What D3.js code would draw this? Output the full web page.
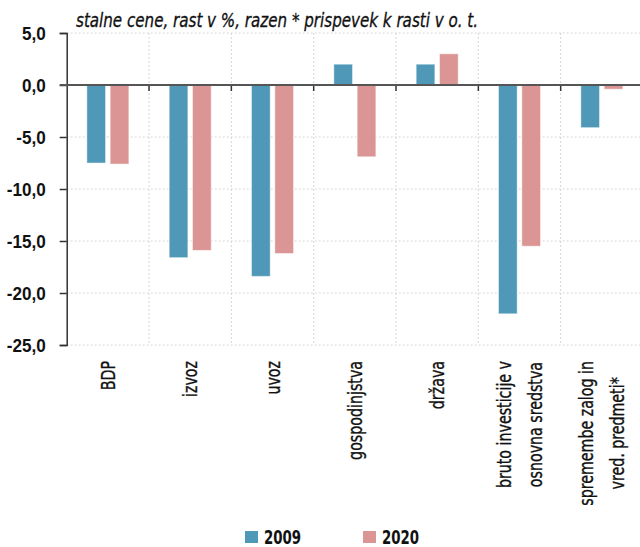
<!DOCTYPE html>
<html>
<head>
<meta charset="utf-8">
<script src="https://cdn.jsdelivr.net/npm/d3@7"></script>
<style>
  html, body { margin: 0; padding: 0; background: #fff; }
  svg { display: block; font-family: "DejaVu Sans Condensed", "Liberation Sans Narrow", sans-serif; }
  .grid line { stroke: #d6d6d6; stroke-dasharray: 2,2; stroke-width: 1; }
  .lbl { fill: #111; stroke: #111; stroke-width: 0.35; font-size: 20px; }
</style>
</head>
<body>
<svg id="chart" width="640" height="547"></svg>
<script>
// categories (line breaks with "|"), one value series per year
const categories = ["BDP", "izvoz", "uvoz", "gospodinjstva", "država",
  "bruto investicije v|osnovna sredstva", "spremembe zalog in|vred. predmeti*"];
const series = ["2009", "2020"];
const values2009 = [-7.5, -16.6, -18.4, 2.0, 2.0, -22.0, -4.1];
const values2020 = [-7.6, -15.9, -16.2, -6.9, 3.0, -15.5, -0.4];
const yTicks = [5, 0, -5, -10, -15, -20, -25];
const subtitle = "stalne cene, rast v %, razen * prispevek k rasti v o. t.";
const colors = { "2009": "#4f98b8", "2020": "#da9594" };

const svg = d3.select("#chart");
const m = { left: 66.7, right: 643, top: 33, bottom: 345 };

// the original uses a tall condensed face; squeeze DejaVu horizontally
const squeeze = (sel, k) => sel.each(function () {
  const w = this.getComputedTextLength();
  d3.select(this).attr("textLength", w * k).attr("lengthAdjust", "spacingAndGlyphs");
});

const x0 = d3.scaleBand().domain(categories).range([m.left, m.right]).padding(0);
// the pair of bars sits in the middle 42px of each band
const x1 = d3.scaleBand().domain(series)
  .range([x0.bandwidth() / 2 - 21, x0.bandwidth() / 2 + 21]).paddingInner(0.2);
const y = d3.scaleLinear().domain([5, -25]).range([m.top, m.bottom]);

const rows = categories.map((c, i) => ({ cat: c, "2009": values2009[i], "2020": values2020[i] }));

// grid
const grid = svg.append("g").attr("class", "grid");
grid.selectAll("line.h").data(yTicks).join("line").attr("class", "h")
  .attr("x1", m.left).attr("x2", 640).attr("y1", (d) => y(d)).attr("y2", (d) => y(d));
grid.selectAll("line.v").data(categories.slice(1)).join("line").attr("class", "v")
  .attr("x1", (d) => x0(d)).attr("x2", (d) => x0(d)).attr("y1", m.top).attr("y2", m.bottom);

// bars
svg.append("g").selectAll("g").data(rows).join("g")
  .attr("transform", (d) => `translate(${x0(d.cat)},0)`)
  .selectAll("rect").data((d) => series.map((s) => ({ s, v: d[s] }))).join("rect")
  .attr("x", (d) => x1(d.s))
  .attr("width", x1.bandwidth())
  .attr("y", (d) => y(Math.max(0, d.v)))
  .attr("height", (d) => Math.abs(y(d.v) - y(0)))
  .attr("fill", (d) => colors[d.s])
  .attr("stroke", "#fff").attr("stroke-opacity", 0.45).attr("stroke-width", 1);

// y axis
const yAxis = svg.append("g").attr("transform", `translate(${m.left},0)`)
  .call(d3.axisLeft(y).tickValues(yTicks).tickSize(7).tickPadding(14)
    .tickFormat((d) => d3.format(".1f")(d).replace(".", ",").replace("−", "-")));
yAxis.select(".domain").attr("stroke", "#333").attr("stroke-width", 1.5);
yAxis.selectAll(".tick line").attr("stroke", "#333").attr("stroke-width", 1.5);
yAxis.selectAll(".tick text").attr("font-size", 19).attr("fill", "#111")
  .attr("font-family", "inherit").attr("font-weight", "bold").attr("dy", "0.36em")
  .call(squeeze, 0.9);

// zero line with category ticks
const xAxis = svg.append("g").attr("transform", `translate(0,${y(0)})`)
  .call(d3.axisBottom(x0).tickValues(categories.slice(1)).tickSize(6).tickFormat(""));
xAxis.selectAll(".tick").attr("transform", (d) => `translate(${x0(d)},0)`);
xAxis.selectAll(".tick line").attr("stroke", "#333").attr("stroke-width", 1.5);
xAxis.select(".domain").remove();
svg.append("line").attr("x1", m.left - 7).attr("x2", 640)
  .attr("y1", y(0)).attr("y2", y(0)).attr("stroke", "#555").attr("stroke-width", 2);

// category labels, rotated; block top-aligned under the plot, lines centered
const labelTop = 361, lineGap = 31;
rows.forEach((d) => {
  const lines = d.cat.split("|");
  const cx = x0(d.cat) + x0.bandwidth() / 2;
  const g = svg.append("g").attr("transform", `translate(${cx},0) rotate(-90)`);
  const texts = lines.map((t, i) => g.append("text").attr("class", "lbl")
    .attr("dy", "0.35em")
    .attr("x", 0).attr("y", (i - (lines.length - 1) / 2) * lineGap)
    .attr("text-anchor", "middle").text(t).call(squeeze, 0.79));
  const w = d3.max(texts, (t) => +t.attr("textLength"));
  texts.forEach((t) => t.attr("x", -(labelTop + w / 2)));
});

// subtitle
svg.append("text").attr("x", 76).attr("y", 26.5)
  .attr("font-size", 19).attr("font-style", "italic").attr("fill", "#111")
  .attr("stroke", "#111").attr("stroke-width", 0.3)
  .attr("textLength", 402).attr("lengthAdjust", "spacingAndGlyphs")
  .text(subtitle);

// legend
const leg = svg.append("g").selectAll("g").data(series).join("g")
  .attr("transform", (d, i) => `translate(${245 + i * 118},531)`);
leg.append("rect").attr("width", 13).attr("height", 12).attr("fill", (d) => colors[d]);
leg.append("text").attr("x", 19).attr("y", 6).attr("dy", "0.36em")
  .attr("font-size", 19).attr("font-weight", "bold").attr("fill", "#111").text((d) => d)
  .call(squeeze, 0.78);
</script>
</body>
</html>
